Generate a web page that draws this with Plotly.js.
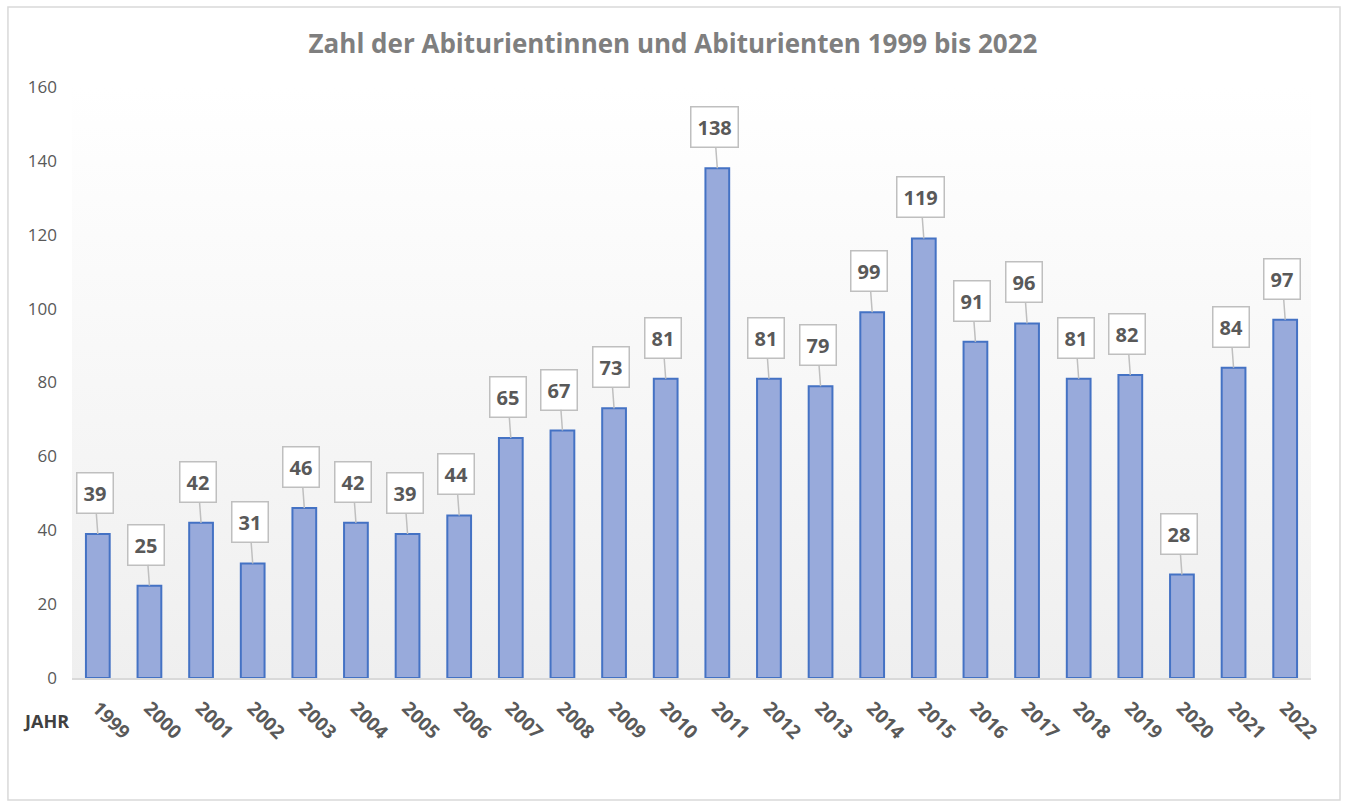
<!DOCTYPE html>
<html>
<head>
<meta charset="utf-8">
<script src="https://cdn.plot.ly/plotly-3.0.1.min.js"></script>
<style>html,body{margin:0;padding:0;background:#fff;}#chart{width:1346px;height:802px;}</style>
</head>
<body>
<div id="chart"></div>
<script>
const years = ["1999","2000","2001","2002","2003","2004","2005","2006","2007","2008","2009","2010","2011","2012","2013","2014","2015","2016","2017","2018","2019","2020","2021","2022"];
const counts = [39,25,42,31,46,42,39,44,65,67,73,81,138,81,79,99,119,91,96,81,82,28,84,97];
const yTicks = [0,20,40,60,80,100,120,140,160];
const titleText = "Zahl der Abiturientinnen und Abiturienten 1999 bis 2022";
const axisLabel = "JAHR";

const FONT = "Open Sans, Liberation Sans, sans-serif";

const trace = {
  type: "bar",
  x: years,
  y: counts,
  width: 0.46,
  marker: {color: "#98aadb", line: {color: "#4472c4", width: 2}},
  hoverinfo: "x+y"
};

// category axis: annotation x uses the category's serial index
const annotations = years.map((yr, i) => ({
  x: i, y: counts[i], xref: "x", yref: "y",
  text: "<b>" + counts[i] + "</b>",
  showarrow: true, arrowhead: 0, arrowwidth: 1.5, arrowcolor: "#bfbfbf",
  ax: -3, ay: -41, standoff: 0,
  bgcolor: "#ffffff", bordercolor: "#bfbfbf", borderwidth: 1.5, borderpad: 6,
  font: {family: FONT, size: 20, color: "#595959"}
}));

annotations.push({
  xref: "paper", yref: "paper", x: -0.041, y: -0.073, xanchor: "left", yanchor: "middle",
  text: "<b>" + axisLabel + "</b>", showarrow: false,
  font: {family: FONT, size: 18, color: "#404040"}
});

const bgSvg = '<svg xmlns="http://www.w3.org/2000/svg" width="100" height="100" preserveAspectRatio="none">' +
  '<defs><linearGradient id="g" x1="0" y1="0" x2="0" y2="1"><stop offset="0" stop-color="#ffffff"/><stop offset="1" stop-color="#efefef"/></linearGradient></defs>' +
  '<rect width="100" height="100" fill="url(#g)"/></svg>';

const layout = {
  width: 1346, height: 802,
  margin: {l: 72, r: 35, t: 87, b: 124},
  paper_bgcolor: "#ffffff",
  plot_bgcolor: "rgba(0,0,0,0)",
  showlegend: false,
  title: {text: "<b>" + titleText + "</b>", x: 0.5, xanchor: "center", y: 0.945, yanchor: "middle",
          font: {family: FONT, size: 26, color: "#7f7f7f"}},
  xaxis: {
    type: "category", tickangle: 45, showgrid: false, zeroline: false,
    showline: true, linecolor: "#d9d9d9", linewidth: 1.5,
    ticks: "", ticklabelstandoff: 10,
    tickfont: {family: FONT, size: 19, color: "#595959", weight: "bold"},
    range: [-0.5, years.length - 0.5], fixedrange: true
  },
  yaxis: {
    range: [0, 160], tickvals: yTicks, showgrid: false, zeroline: false, showline: false,
    ticks: "", ticklabelstandoff: 14,
    tickfont: {family: FONT, size: 17, color: "#595959"}, fixedrange: true
  },
  annotations: annotations,
  images: [{
    source: "data:image/svg+xml;charset=utf-8," + encodeURIComponent(bgSvg),
    xref: "paper", yref: "paper", x: 0, y: 1, sizex: 1, sizey: 1,
    xanchor: "left", yanchor: "top", sizing: "stretch", layer: "below"
  }],
  shapes: [{
    type: "rect", xref: "paper", yref: "paper",
    x0: -0.0517, x1: 1.0234, y0: -0.2064, y1: 1.1354,
    line: {color: "#d9d9d9", width: 1.5}, fillcolor: "rgba(0,0,0,0)", layer: "below"
  }]
};

Plotly.newPlot("chart", [trace], layout, {displayModeBar: false, staticPlot: true});
</script>
</body>
</html>
